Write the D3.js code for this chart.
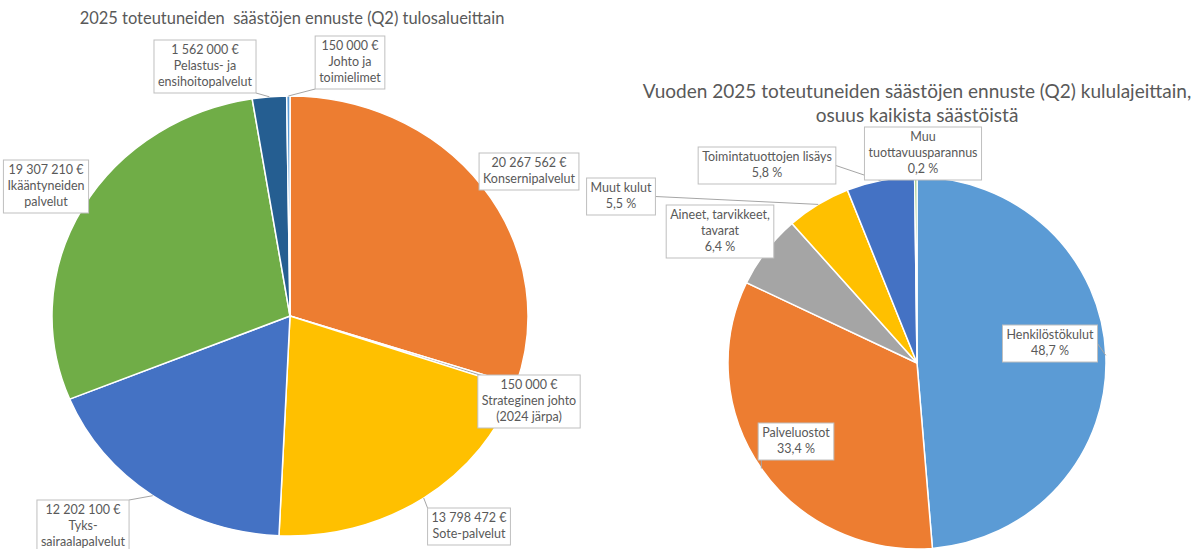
<!DOCTYPE html>
<html><head><meta charset="utf-8">
<script src="https://cdn.jsdelivr.net/npm/d3@7"></script>
<style>
body{margin:0;background:#fff;}
text{font-family:Lato,"Open Sans",sans-serif;white-space:pre;}
</style></head>
<body>
<svg id="c" width="1196" height="549"></svg>
<script>
// ---- data ----
const leftTitle = "2025 toteutuneiden  säästöjen ennuste (Q2) tulosalueittain";
const leftCategories = ["Konsernipalvelut", "Strateginen johto\n(2024 järpa)", "Sote-palvelut", "Tyks-\nsairaalapalvelut", "Ikääntyneiden\npalvelut", "Pelastus- ja\nensihoitopalvelut", "Johto ja\ntoimielimet"];
const leftValues = [20267562, 150000, 13798472, 12202100, 19307210, 1562000, 150000];

const rightTitle = ["Vuoden 2025 toteutuneiden säästöjen ennuste (Q2) kululajeittain,", "osuus kaikista säästöistä"];
const rightCategories = ["Henkilöstökulut", "Palveluostot", "Aineet, tarvikkeet,\ntavarat", "Muut kulut", "Toimintatuottojen lisäys", "Muu\ntuottavuusparannus"];
const rightValues = [48.7, 33.4, 6.4, 5.5, 5.8, 0.2];

// ---- styles / layout ----
const leftColors = ["#ED7D31", "#A5A5A5", "#FFC000", "#4472C4", "#70AD47", "#255E91", "#5B9BD5"];
const rightColors = ["#5B9BD5", "#ED7D31", "#A5A5A5", "#FFC000", "#4472C4", "#70AD47"];
const leftGeom = {cx: 290, cy: 316, rx: 238, ry: 220};
const rightGeom = {cx: 917, cy: 363, rx: 189, ry: 186};
// label box placement: [centre x, top y]
const leftLabelPos = [[529,153],[529,375],[469,508],[83,500],[46,160],[205,40],[350,36]];
const rightLabelPos = [[1050,325],[796,423],[720,205],[621,178],[767,147],[923,127]];

const svg = d3.select("#c");
const locale = d3.formatLocale({decimal: ",", thousands: " ", grouping: [3], currency: ["", " €"]});
const fmtEur = v => locale.format(",")(v) + " €";
const fmtPct = v => locale.format(".1f")(v) + " %";

function fitSize(txt, target, base) {
  const t = svg.append("text").attr("font-size", base).text(txt);
  const w = t.node().getComputedTextLength();
  t.remove();
  return base * target / w;
}
const labelSize = fitSize("Konsernipalvelut", 92, 12);
const textColor = "#595959";

// titles
svg.append("text").attr("x", 292).attr("y", 24).attr("text-anchor", "middle")
  .attr("font-size", fitSize(leftTitle, 425, 16)).attr("fill", textColor).text(leftTitle);
const rts = fitSize(rightTitle[0], 549, 18);
rightTitle.forEach((t, i) => {
  svg.append("text").attr("x", 917).attr("y", 98 + i * 24).attr("text-anchor", "middle")
    .attr("font-size", rts).attr("fill", textColor).text(t);
});

function drawPie(cats, vals, colors, g, pos, labelFn) {
  const pie = d3.pie().sort(null).value(d => d)(vals);
  const arc = d3.arc().innerRadius(0).outerRadius(g.ry);
  const pg = svg.append("g").attr("transform", `translate(${g.cx},${g.cy}) scale(${g.rx / g.ry},1)`);
  pg.selectAll("path").data(pie).join("path")
    .attr("d", arc).attr("fill", (d, i) => colors[i])
    .attr("stroke", "#fff").attr("stroke-width", 1.5)
    .attr("vector-effect", "non-scaling-stroke");

  const labels = pie.map((d, i) => {
    const mid = (d.startAngle + d.endAngle) / 2;
    const ax = g.cx + g.rx * Math.sin(mid), ay = g.cy - g.ry * Math.cos(mid);
    const lines = labelFn(cats[i], vals[i]);
    const grp = svg.append("g");
    const texts = lines.map((l, j) => grp.append("text")
      .attr("x", pos[i][0]).attr("y", pos[i][1] + 14 + j * 16)
      .attr("text-anchor", "middle").attr("font-size", labelSize).attr("fill", textColor).text(l));
    const w = d3.max(texts, t => t.node().getComputedTextLength()) + 8;
    const h = lines.length * 16 + 5;
    const bx = pos[i][0] - w / 2, by = pos[i][1];
    return {grp, bx, by, w, h, ax, ay};
  });
  // leader lines first, then boxes above them
  labels.forEach(L => {
    let nx = Math.max(L.bx, Math.min(L.ax, L.bx + L.w));
    let ny = Math.max(L.by, Math.min(L.ay, L.by + L.h));
    const inside = nx === L.ax && ny === L.ay;
    if (!inside && L.ay >= L.by && L.ay <= L.by + L.h) ny = L.by + L.h / 2; // side midpoint
    if (!inside && Math.hypot(nx - L.ax, ny - L.ay) > 3) {
      svg.append("line")
        .attr("x1", nx).attr("y1", ny).attr("x2", L.ax).attr("y2", L.ay)
        .attr("stroke", "#A6A6A6").attr("stroke-width", 1);
    }
  });
  labels.forEach(L => {
    L.grp.raise();
    L.grp.insert("rect", "text").attr("x", L.bx).attr("y", L.by).attr("width", L.w).attr("height", L.h)
      .attr("fill", "#fff").attr("stroke", "#BFBFBF").attr("stroke-width", 1);
  });
}

drawPie(leftCategories, leftValues, leftColors, leftGeom, leftLabelPos,
  (c, v) => [fmtEur(v)].concat(c.split("\n")));
drawPie(rightCategories, rightValues, rightColors, rightGeom, rightLabelPos,
  (c, v) => c.split("\n").concat([fmtPct(v)]));
</script>
</body></html>
